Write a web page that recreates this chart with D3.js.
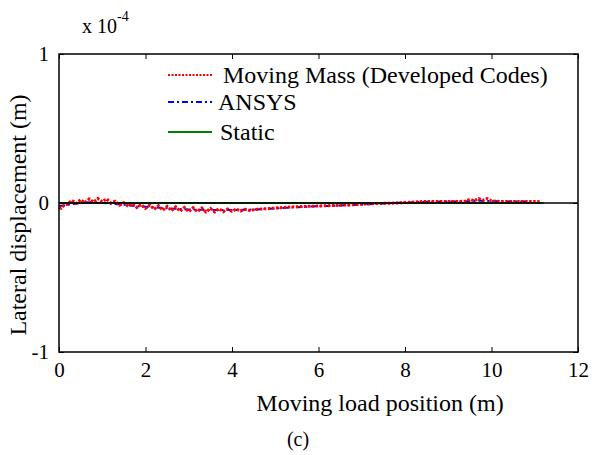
<!DOCTYPE html>
<html>
<head>
<meta charset="utf-8">
<script src="https://cdn.jsdelivr.net/npm/d3@7"></script>
<style>
  body { margin: 0; background: #fff; }
  text { font-family: "Liberation Serif", "Times New Roman", serif; fill: #000; }
</style>
</head>
<body>
<div id="chart"></div>
<script>
// Data (lateral displacement in units of 1e-4 m)
var movingMass = [
  [0, -0.03], [0.05, -0.035], [0.1, -0.02], [0.2, -0.008], [0.3, 0.018], [0.4, -0.002],
  [0.5, 0.022], [0.6, 0.002], [0.7, 0.028], [0.8, 0.006], [0.9, 0.03], [1.0, 0.008],
  [1.1, 0.028], [1.2, 0.0], [1.3, 0.012], [1.4, -0.014], [1.5, 0.002], [1.6, -0.022],
  [1.7, -0.004], [1.8, -0.03], [1.9, -0.01], [2.0, -0.036], [2.1, -0.014], [2.2, -0.042],
  [2.3, -0.018], [2.4, -0.048], [2.5, -0.022], [2.6, -0.052], [2.7, -0.026], [2.8, -0.055],
  [2.9, -0.03], [3.0, -0.058], [3.1, -0.032], [3.2, -0.058], [3.3, -0.034], [3.4, -0.06],
  [3.5, -0.036], [3.6, -0.06], [3.7, -0.038], [3.8, -0.058], [3.9, -0.04], [4.0, -0.056],
  [4.1, -0.04], [4.2, -0.054], [4.3, -0.042], [4.4, -0.05], [4.6, -0.042], [4.8, -0.038],
  [5.0, -0.034], [5.2, -0.03], [5.4, -0.026], [5.6, -0.024], [5.8, -0.022], [6.0, -0.02],
  [6.2, -0.018], [6.4, -0.016], [6.6, -0.014], [6.8, -0.012], [7.0, -0.008], [7.2, -0.005],
  [7.4, -0.003], [7.6, -0.002], [7.8, 0.0], [8.0, 0.003], [8.2, 0.006], [8.4, 0.01],
  [8.8, 0.01], [9.2, 0.01], [9.4, 0.012], [9.5, 0.025], [9.6, 0.015], [9.7, 0.03],
  [9.8, 0.018], [9.9, 0.03], [10.0, 0.015], [10.2, 0.01], [10.6, 0.01], [11.0, 0.01],
  [11.15, 0.008]
];

var ansys = [
  [0, -0.02], [0.25, -0.01], [0.5, 0.0], [0.75, 0.005], [1.0, 0.0], [1.25, -0.005],
  [1.5, -0.012], [1.75, -0.02], [2.0, -0.025], [2.25, -0.03], [2.5, -0.035], [2.75, -0.04],
  [3.0, -0.043], [3.25, -0.045], [3.5, -0.047], [3.75, -0.048], [4.0, -0.047], [4.25, -0.046],
  [4.5, -0.044], [4.75, -0.04], [5.0, -0.036], [5.25, -0.032], [5.5, -0.028], [5.75, -0.025],
  [6.0, -0.022], [6.25, -0.02], [6.5, -0.017], [6.75, -0.014], [7.0, -0.01], [7.25, -0.006],
  [7.5, -0.003], [7.75, 0.0], [8.0, 0.003], [8.25, 0.006], [8.5, 0.008], [8.75, 0.009],
  [9.0, 0.01], [9.25, 0.01], [9.5, 0.012], [9.75, 0.015], [10.0, 0.013], [10.25, 0.011],
  [10.5, 0.01], [10.75, 0.01], [11.0, 0.008]
];

var staticLine = [[0, 0], [11.2, 0]];

var xTicks = [0, 2, 4, 6, 8, 10, 12];
var yTicks = [-1, 0, 1];
var legendLabels = ["Moving Mass (Developed Codes)", "ANSYS", "Static"];

var margin = {top: 54, right: 17, bottom: 103, left: 59},
    width = 595 - margin.left - margin.right,
    height = 455 - margin.top - margin.bottom;

var svg = d3.select("#chart").append("svg")
  .attr("width", 595)
  .attr("height", 455);

var g = svg.append("g")
  .attr("transform", "translate(" + margin.left + "," + margin.top + ")");

var x = d3.scaleLinear().domain([0, 12]).range([0, width]);
var y = d3.scaleLinear().domain([-1, 1]).range([height, 0]);

// plain hyphen for negatives, like the original figure
var plain = function(d) { return String(d); };

// Axes with inward ticks on all four sides
function styleAxis(sel) {
  sel.attr("font-family", null).attr("font-size", null);
  sel.select(".domain").remove();
  sel.selectAll("line").attr("stroke", "#000").attr("stroke-width", 1);
  sel.selectAll("text").style("font-size", "21px");
}

g.append("g")
  .attr("transform", "translate(0," + height + ")")
  .call(d3.axisBottom(x).tickValues(xTicks).tickSizeInner(-5).tickSizeOuter(0).tickPadding(10).tickFormat(plain))
  .call(styleAxis);
g.append("g")
  .call(d3.axisTop(x).tickValues(xTicks).tickSizeInner(-5).tickSizeOuter(0).tickFormat(""))
  .call(styleAxis);
g.append("g")
  .call(d3.axisLeft(y).tickValues(yTicks).tickSizeInner(-5).tickSizeOuter(0).tickPadding(10).tickFormat(plain))
  .call(styleAxis);
g.append("g")
  .attr("transform", "translate(" + width + ",0)")
  .call(d3.axisRight(y).tickValues(yTicks).tickSizeInner(-5).tickSizeOuter(0).tickFormat(""))
  .call(styleAxis);

// Lines
var line = d3.line()
  .x(function(d) { return x(d[0]); })
  .y(function(d) { return y(d[1]); });

g.append("path").datum(staticLine)
  .attr("d", line)
  .attr("fill", "none")
  .attr("stroke", "#008000")
  .attr("stroke-width", 2);

g.append("path").datum(ansys)
  .attr("d", line)
  .attr("fill", "none")
  .attr("stroke", "#0000ff")
  .attr("stroke-width", 2)
  .attr("stroke-dasharray", "6,3,2,3");

g.append("path").datum(movingMass)
  .attr("d", line)
  .attr("fill", "none")
  .attr("stroke", "#ff0000")
  .attr("stroke-width", 3)
  .attr("stroke-dasharray", "2.5,1.5");

// zero reference line
g.append("line")
  .attr("x1", x(0)).attr("x2", x(12))
  .attr("y1", y(0)).attr("y2", y(0))
  .attr("stroke", "#000")
  .attr("stroke-width", 1.5);

// Frame
g.append("rect")
  .attr("width", width).attr("height", height)
  .attr("fill", "none")
  .attr("stroke", "#000")
  .attr("stroke-width", 1.5);

// Legend
var legendStyles = [
  {color: "#ff0000", dash: "2,1.5", tx: 223},
  {color: "#0000ff", dash: "6,3,2,3", tx: 218},
  {color: "#008000", dash: null, tx: 220}
];
var legendY = [75, 102, 132];
legendLabels.forEach(function(label, i) {
  svg.append("line")
    .attr("x1", 168).attr("x2", 212)
    .attr("y1", legendY[i]).attr("y2", legendY[i])
    .attr("stroke", legendStyles[i].color)
    .attr("stroke-width", 2)
    .attr("stroke-dasharray", legendStyles[i].dash);
  svg.append("text")
    .attr("x", legendStyles[i].tx)
    .attr("y", legendY[i] + 8)
    .style("font-size", "24px")
    .text(label);
});

// Axis titles
svg.append("text")
  .attr("x", 380).attr("y", 411)
  .attr("text-anchor", "middle")
  .style("font-size", "24px")
  .text("Moving load position (m)");

svg.append("text")
  .attr("transform", "translate(26,215) rotate(-90)")
  .attr("text-anchor", "middle")
  .style("font-size", "24px")
  .text("Lateral displacement (m)");

// Exponent label
var expo = svg.append("text").attr("x", 82).attr("y", 33).style("font-size", "20px");
expo.append("tspan").text("x 10");
expo.append("tspan").attr("dy", -12).style("font-size", "14px").text("-4");

// Caption
svg.append("text")
  .attr("x", 298).attr("y", 446)
  .attr("text-anchor", "middle")
  .style("font-size", "20px")
  .text("(c)");
</script>
</body>
</html>
